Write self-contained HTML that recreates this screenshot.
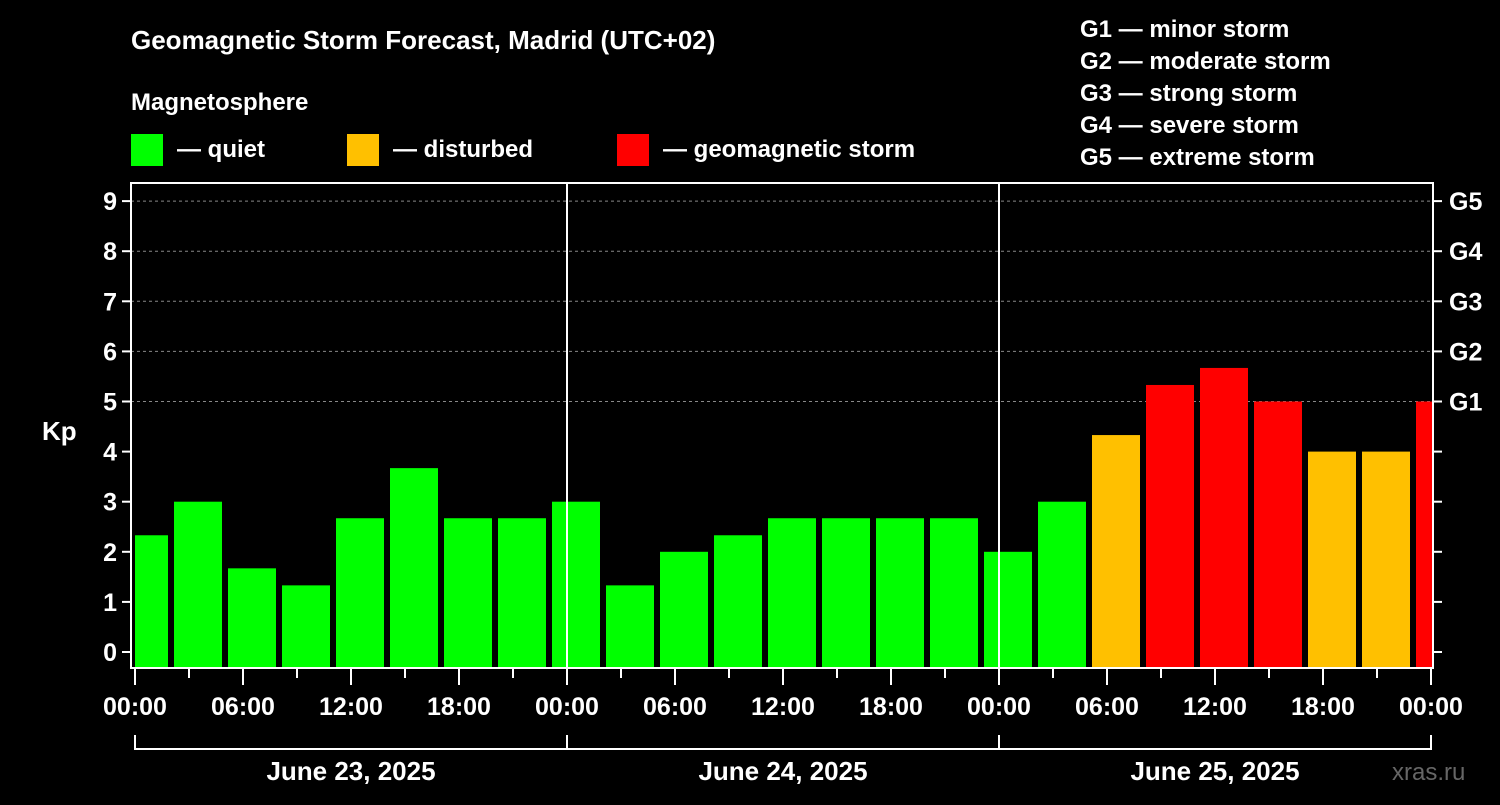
<!DOCTYPE html>
<html><head><meta charset="utf-8"><style>
html,body{margin:0;padding:0;background:#000;}
svg text{font-family:"Liberation Sans",Arial,sans-serif;font-weight:bold;fill:#fff;}
</style></head><body>
<svg id="chart" width="1500" height="800" viewBox="0 0 1500 800" xmlns="http://www.w3.org/2000/svg">
<rect width="1500" height="800" fill="#000"/>
<text x="131" y="49" font-size="26">Geomagnetic Storm Forecast, Madrid (UTC+02)</text>
<text x="131" y="110" font-size="24">Magnetosphere</text>
<g>
<rect x="131" y="134" width="32" height="32" fill="#00ff00"/>
<text x="177" y="157" font-size="24">— quiet</text>
<rect x="347" y="134" width="32" height="32" fill="#ffc000"/>
<text x="393" y="157" font-size="24">— disturbed</text>
<rect x="617" y="134" width="32" height="32" fill="#ff0000"/>
<text x="663" y="157" font-size="24">— geomagnetic storm</text>
</g>
<g font-size="24">
<text x="1080" y="37">G1 — minor storm</text>
<text x="1080" y="69">G2 — moderate storm</text>
<text x="1080" y="101">G3 — strong storm</text>
<text x="1080" y="133">G4 — severe storm</text>
<text x="1080" y="165">G5 — extreme storm</text>
</g>
<text x="42" y="440" font-size="26">Kp</text>
<text x="1392" y="780" font-size="24" fill="#666" style="fill:#666;font-weight:normal">xras.ru</text>
<g id="grid"></g>
<g id="bars"></g>
<g id="axes"></g>
</svg>
<script>
const kpValues=[2.33,3,1.67,1.33,2.67,3.67,2.67,2.67,3,1.33,2,2.33,2.67,2.67,2.67,2.67,2,3,4.33,5.33,5.67,5,4,4,5];
const yTicks=[0,1,2,3,4,5,6,7,8,9];
const gLabels=["G1","G2","G3","G4","G5"];
const gLevels=[5,6,7,8,9];
const hourLabels=["00:00","06:00","12:00","18:00"];
const dayLabels=["June 23, 2025","June 24, 2025","June 25, 2025"];
const NS="http://www.w3.org/2000/svg";
const L=131,R=1433,T=183,B=668;
const x0=135,pxH=18;
const xS=h=>x0+h*pxH;
const yS=v=>652-v*50.1;
function mk(tag,attrs,parent){const e=document.createElementNS(NS,tag);for(const k in attrs)e.setAttribute(k,attrs[k]);parent.appendChild(e);return e;}
const grid=document.getElementById('grid'),bars=document.getElementById('bars'),axes=document.getElementById('axes');
gLevels.forEach((v,i)=>{
 const l=mk('line',{x1:L,x2:R,y1:yS(v),y2:yS(v),stroke:'#888','stroke-dasharray':'3,3','stroke-width':1},grid);
 
 
});
const cp=mk('clipPath',{id:'plotclip'},document.getElementById('chart'));
mk('rect',{x:L+4,y:T,width:R-L-5,height:B-T},cp);
bars.setAttribute('clip-path','url(#plotclip)');
kpValues.forEach((v,i)=>{
 const c=x0+(3*i+0.5)*pxH;
 const col=v>=5?'#ff0000':(v>=4?'#ffc000':'#00ff00');
 const r=mk('rect',{x:c-24,y:yS(v),width:48,height:B-yS(v),fill:col},bars);
 
 
});
for(let d=1;d<3;d++){
 const l=mk('line',{x1:xS(24*d),x2:xS(24*d),y1:T,y2:B,stroke:'#fff','stroke-width':2},axes);
 
 
}
const fr=mk('rect',{x:L,y:T,width:R-L,height:B-T,fill:'none',stroke:'#fff','stroke-width':2},axes);


yTicks.forEach(v=>{
 mk('line',{x1:L-9,x2:L,y1:yS(v),y2:yS(v),stroke:'#fff','stroke-width':2},axes);
 mk('line',{x1:R,x2:R+9,y1:yS(v),y2:yS(v),stroke:'#fff','stroke-width':2},axes);
 const t=mk('text',{x:L-14,y:yS(v)+9,'font-size':25,'text-anchor':'end'},axes);
 t.textContent=v;
 
 
});
gLabels.forEach((g,i)=>{
 const t=mk('text',{x:R+16,y:yS(gLevels[i])+9,'font-size':25},axes);
 t.textContent=g;
 
 
});
for(let h=0;h<=72;h+=3){
 const major=h%6===0;
 mk('line',{x1:xS(h),x2:xS(h),y1:B,y2:B+(major?17:10),stroke:'#fff','stroke-width':2},axes);
 if(major){
  const t=mk('text',{x:xS(h),y:715,'font-size':25,'text-anchor':'middle'},axes);
  t.textContent=hourLabels[(h/6)%4];
  
  
 }
}
dayLabels.forEach((d,i)=>{
 const a=xS(24*i),b=xS(24*(i+1));
 const p=mk('path',{d:`M${a} 735V749H${b}`+(i===2?'V735':''),fill:'none',stroke:'#fff','stroke-width':2},axes);
 
 
 const t=mk('text',{x:(a+b)/2,y:780,'font-size':26,'text-anchor':'middle'},axes);
 t.textContent=d;
 
 
});
</script>
</body></html>
